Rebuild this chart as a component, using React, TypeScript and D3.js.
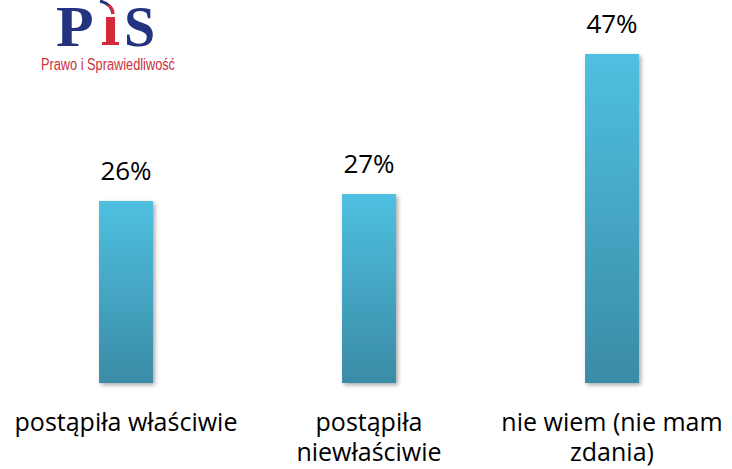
import React from "react";
import * as d3 from "d3";

const categories = ["postąpiła właściwie", "postąpiła niewłaściwie", "nie wiem (nie mam zdania)"];
const values = [26, 27, 47];
const tickLabels = [["postąpiła właściwie"], ["postąpiła", "niewłaściwie"], ["nie wiem (nie mam", "zdania)"]];

const App = () => {
  const width = 732;
  const height = 469;
  const baseY = 383;

  const x = d3.scaleBand<string>()
    .domain(categories)
    .range([4.5, 733.5])
    .paddingInner(0.778)
    .paddingOuter(0.389);

  const y = d3.scaleLinear().domain([0, 50]).range([baseY, baseY - 350]);

  const font = "'Open Sans', sans-serif";

  return (
    <svg width={width} height={height} style={{ position: "absolute", left: 0, top: 0, background: "#fff" }}>
      <defs>
        <linearGradient id="barGrad" x1="0" y1="0" x2="0" y2="1">
          <stop offset="0%" stopColor="#4fc0e0" />
          <stop offset="100%" stopColor="#3a8ba6" />
        </linearGradient>
        <filter id="shadow" x="-20%" y="-5%" width="150%" height="115%">
          <feGaussianBlur in="SourceAlpha" stdDeviation="2" />
          <feOffset dx="2" dy="2" result="b" />
          <feComponentTransfer><feFuncA type="linear" slope="0.35" /></feComponentTransfer>
          <feMerge><feMergeNode /><feMergeNode in="SourceGraphic" /></feMerge>
        </filter>
      </defs>

      {/* logo */}
      <g>
        <text x={0} y={0} transform="translate(56,46) scale(1.1,1)" fontFamily="'Liberation Serif', serif"
          fontWeight="bold" fontSize={56} fill="#24337f">P</text>
        <text x={124} y={46} fontFamily="'Liberation Serif', serif" fontWeight="bold" fontSize={56} fill="#24337f">S</text>
        <rect x={106} y={17} width={9} height={27} fill="#d42a3a" />
        <rect x={102} y={42} width={17} height={3} fill="#d42a3a" />
        <path d="M100,1 Q112,4 113,14" fill="none" stroke="#24337f" strokeWidth={3} />
        <path d="M108,5 Q113,8 113,14" fill="none" stroke="#d42a3a" strokeWidth={3} />
        <text x={41} y={70} fontFamily="'Liberation Sans', sans-serif" fontSize={16} fill="#c8323c"
          textLength={134} lengthAdjust="spacingAndGlyphs">Prawo i Sprawiedliwość</text>
      </g>

      {categories.map((c, i) => (
        <g key={c}>
          <rect x={x(c)} y={y(values[i])} width={x.bandwidth()} height={baseY - y(values[i])}
            fill="url(#barGrad)" filter="url(#shadow)" />
          <text x={(x(c) ?? 0) + x.bandwidth() / 2} y={y(values[i]) - 21} textAnchor="middle"
            fontFamily={font} fontSize={26} fill="#000">{values[i]}%</text>
          {tickLabels[i].map((l, j) => (
            <text key={j} x={(x(c) ?? 0) + x.bandwidth() / 2} y={431 + j * 30} textAnchor="middle"
              fontFamily={font} fontSize={25} fill="#000">{l}</text>
          ))}
        </g>
      ))}
    </svg>
  );
};

export default App;
